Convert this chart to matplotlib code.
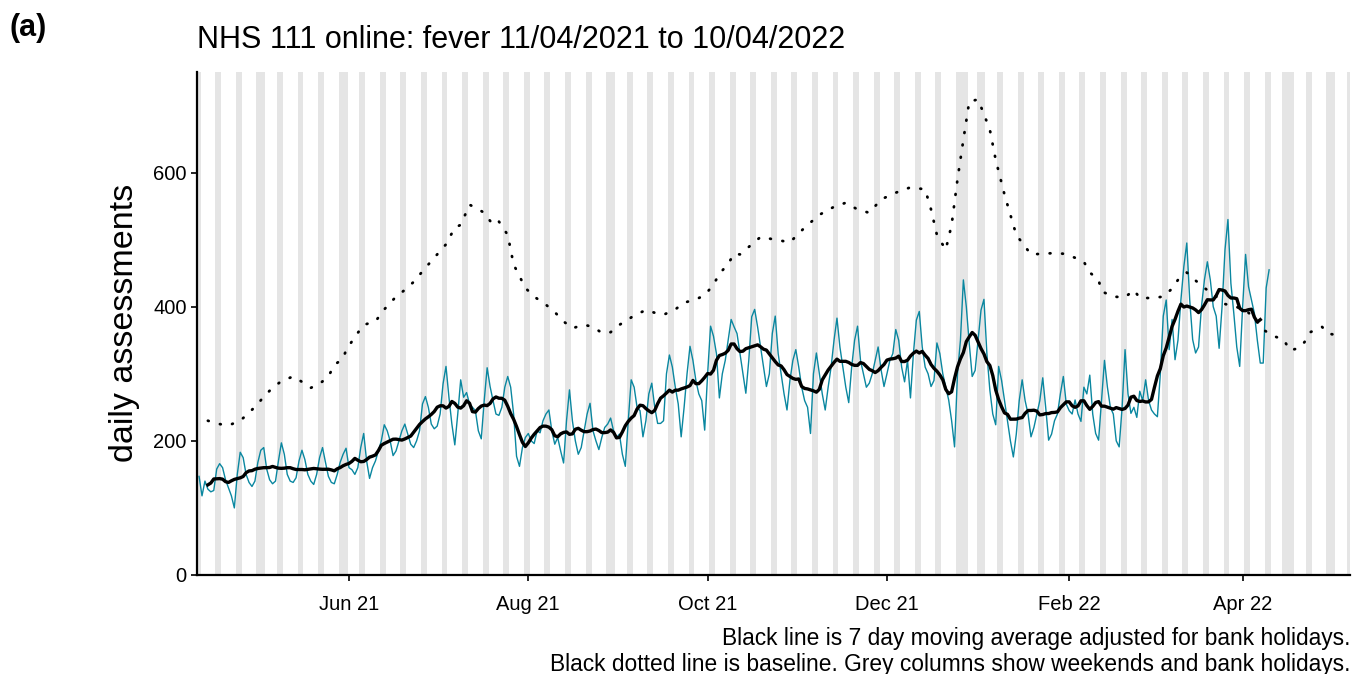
import numpy as np
import pandas as pd
import matplotlib
matplotlib.use("Agg")
import matplotlib.pyplot as plt
import matplotlib.dates as mdates

plt.rcParams['font.family'] = ['Liberation Sans', 'DejaVu Sans']

# first day of the series (Sunday 11/04/2021)
start = pd.Timestamp("2021-04-11")

# daily assessments, one row per week (Mon..Sun), first value is Sun 11/04/2021
daily = [147,
    118, 140, 128, 124, 126, 158, 166,
    160, 142, 130, 118, 100, 150, 183,
    175, 150, 138, 132, 140, 168, 186,
    190, 158, 142, 136, 140, 170, 197,
    180, 150, 140, 138, 145, 170, 186,
    172, 150, 140, 135, 150, 175, 190,
    168, 147, 138, 136, 150, 168, 180,
    189, 160, 157, 150, 160, 190, 211,
    170, 144, 160, 170, 185, 200, 224,
    215, 200, 178, 185, 200, 215, 225,
    210, 195, 190, 200, 215, 255, 266,
    250, 225, 218, 222, 240, 285, 311,
    265, 225, 194, 240, 291, 265, 272,
    255, 250, 245, 215, 203, 260, 309,
    281, 260, 240, 238, 250, 280, 296,
    280, 240, 177, 162, 190, 205, 211,
    200, 196, 215, 212, 230, 240, 246,
    215, 195, 205, 185, 167, 230, 276,
    230, 200, 180, 190, 215, 240, 256,
    215, 200, 187, 205, 220, 225, 234,
    215, 205, 210, 180, 162, 230, 291,
    280, 250, 245, 206, 230, 270, 286,
    250, 226, 226, 230, 300, 328, 310,
    280, 255, 206, 250, 300, 341, 320,
    290, 270, 260, 216, 300, 371, 356,
    330, 264, 300, 320, 350, 381, 370,
    360, 330, 300, 271, 320, 385, 396,
    370, 340, 310, 281, 300, 360, 386,
    330, 300, 270, 246, 290, 320, 336,
    310, 280, 260, 250, 211, 300, 331,
    300, 270, 246, 280, 310, 350, 383,
    340, 310, 280, 257, 310, 350, 371,
    320, 300, 280, 286, 300, 320, 340,
    306, 281, 300, 320, 330, 366, 350,
    310, 288, 320, 264, 330, 380, 393,
    340, 310, 300, 281, 290, 346, 330,
    300, 280, 261, 230, 191, 300, 350,
    440, 400, 345, 296, 305, 350, 395,
    411, 330, 276, 240, 224, 311, 290,
    260, 230, 200, 176, 210, 260, 291,
    260, 240, 206, 220, 240, 260, 294,
    250, 201, 210, 230, 240, 270, 296,
    255, 245, 240, 261, 240, 229, 280,
    270, 298, 240, 211, 201, 260, 320,
    280, 250, 240, 200, 191, 250, 336,
    270, 241, 250, 235, 274, 260, 291,
    260, 246, 240, 236, 300, 386, 410,
    336, 381, 321, 350, 410, 460, 495,
    410, 351, 331, 340, 400, 440, 467,
    440, 400, 386, 338, 400, 485, 530,
    435, 390, 340, 311, 400, 478, 430,
    410, 390, 350, 316, 316, 428, 455]

# baseline (days after start, value)
baseline_day = [3, 7, 10, 14, 17, 20, 22, 25, 28, 32, 35, 38, 41, 44, 46, 49, 50, 53,
                56, 60, 63, 67, 70, 73, 77, 80, 84, 87, 89, 92, 94, 97, 100, 102, 105,
                107, 111, 114, 118, 121, 124, 127, 131, 134, 137, 140, 143, 146, 148,
                152, 155, 158, 162, 165, 169, 172, 175, 177, 180, 182, 184, 191, 196,
                201, 206, 211, 216, 220, 224, 228, 232, 237, 242, 247, 249, 251, 254,
                256, 258, 260, 262, 265, 267, 269, 271, 274, 278, 283, 287, 291, 294,
                298, 301, 303, 306, 307, 311, 315, 318, 320, 324, 328, 331, 333, 336,
                339, 342, 346, 349, 352, 356, 359, 362, 365, 369, 371, 374, 376, 378,
                382, 384, 388]
baseline_value = [230, 225, 223, 230, 242, 255, 266, 279, 289, 296, 288, 279, 285, 296,
                  313, 323, 335, 355, 373, 378, 396, 415, 425, 437, 458, 473, 493, 518,
                  522, 552, 548, 540, 522, 527, 507, 463, 428, 415, 403, 392, 378, 368,
                  373, 370, 361, 362, 373, 381, 387, 395, 391, 388, 396, 406, 411, 417,
                  433, 449, 464, 479, 478, 504, 500, 496, 518, 537, 549, 555, 545, 540,
                  560, 570, 578, 575, 545, 507, 485, 522, 590, 649, 706, 709, 687, 664,
                  619, 567, 507, 478, 479, 480, 479, 473, 467, 451, 440, 423, 415, 414,
                  425, 413, 413, 415, 427, 440, 451, 439, 428, 415, 404, 401, 395, 383,
                  366, 357, 351, 335, 338, 347, 362, 370, 360, 357]

bank_holidays = ["2021-05-03", "2021-05-31", "2021-08-30", "2021-12-27",
                 "2021-12-28", "2022-01-03", "2022-04-15", "2022-04-18", "2022-05-02"]

x_start = start - pd.Timedelta(days=0.7)
x_end = start + pd.Timedelta(days=391.5)

dates = pd.date_range(start, periods=len(daily), freq="D")
series = pd.Series(daily, index=dates)
moving_avg = series.rolling(7, center=True).mean()
base_dates = start + pd.to_timedelta(baseline_day, unit="D")

fig = plt.figure(figsize=(13.54, 6.74), dpi=100)
ax = fig.add_axes([0.1455, 0.1469, 0.8515, 0.7463])

# grey columns for weekends and bank holidays
all_days = pd.date_range(x_start.normalize(), x_end.normalize(), freq="D")
bh = set(pd.to_datetime(bank_holidays))
for day in all_days:
    if day.dayofweek >= 5 or day in bh:
        ax.axvspan(day - pd.Timedelta(hours=12), day + pd.Timedelta(hours=12),
                   color="#e5e5e5", lw=0, zorder=0)

ax.plot(dates, daily, color="#0a87a0", lw=1.0, zorder=2)
ax.plot(moving_avg.index, moving_avg.values, color="black", lw=2.4, zorder=3)
ax.plot(base_dates, baseline_value, color="black", lw=2.0,
        linestyle=(0, (0.3, 4.2)), dash_capstyle="round", zorder=3)

ax.set_xlim(x_start, x_end)
ax.set_ylim(0, 750)
ax.set_yticks([0, 200, 400, 600])
ax.xaxis.set_major_locator(mdates.MonthLocator(bymonth=[2, 4, 6, 8, 10, 12]))
ax.xaxis.set_major_formatter(mdates.DateFormatter("%b %y"))

for side in ["top", "right"]:
    ax.spines[side].set_visible(False)
for side in ["left", "bottom"]:
    ax.spines[side].set_linewidth(1.6)
ax.tick_params(axis="both", length=4.5, width=1.2, labelsize=14.5, colors="black", pad=3)
ax.tick_params(axis="x", pad=10)

fig.text(0.007, 0.958, "(a)", fontsize=22, fontweight="bold", va="center", ha="left")
fig.text(0.1455, 0.94, "NHS 111 online: fever 11/04/2021 to 10/04/2022",
         fontsize=22, va="center", ha="left")
fig.text(125 / 1354, 1 - 323 / 674, "daily assessments", fontsize=24.5,
         rotation=90, va="center", ha="center")
fig.text(0.997, 1 - 638 / 674,
         "Black line is 7 day moving average adjusted for bank holidays.",
         fontsize=16.4, ha="right", va="center")
fig.text(0.997, 1 - 664 / 674,
         "Black dotted line is baseline. Grey columns show weekends and bank holidays.",
         fontsize=16.4, ha="right", va="center")

fig.savefig("out.png", dpi=100)
